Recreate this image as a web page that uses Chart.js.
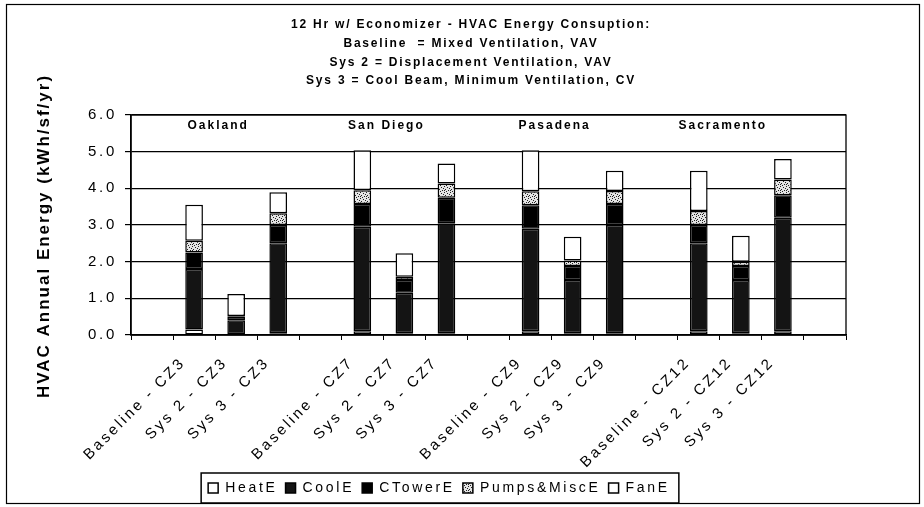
<!DOCTYPE html>
<html><head><meta charset="utf-8">
<script src="https://cdn.jsdelivr.net/npm/chart.js@4.4.1/dist/chart.umd.min.js"></script>
<style>html,body{margin:0;padding:0;background:#fff}canvas{display:block}</style>
</head><body>
<canvas id="c" width="924" height="507"></canvas>
<script>
const categories = ["", "Baseline - CZ3", "Sys 2 - CZ3", "Sys 3 - CZ3", "", "Baseline - CZ7", "Sys 2 - CZ7", "Sys 3 - CZ7", "", "Baseline - CZ9", "Sys 2 - CZ9", "Sys 3 - CZ9", "", "Baseline - CZ12", "Sys 2 - CZ12", "Sys 3 - CZ12", ""];
const heatE   = [null,0.15,0.02,0.05,null,0.10,0.05,0.05,null,0.10,0.05,0.05,null,0.10,0.05,0.10,null];
const coolE   = [null,1.65,0.38,2.45,null,2.85,1.10,3.00,null,2.80,1.45,2.95,null,2.40,1.45,3.10,null];
const ctowerE = [null,0.45,0.10,0.50,null,0.62,0.35,0.69,null,0.64,0.38,0.57,null,0.50,0.38,0.61,null];
const pumpsE  = [null,0.32,0.02,0.32,null,0.38,0.09,0.39,null,0.38,0.15,0.36,null,0.38,0.12,0.43,null];
const fanE    = [null,0.98,0.60,0.57,null,1.09,0.64,0.55,null,1.12,0.65,0.55,null,1.10,0.71,0.56,null];
const seriesNames = ["HeatE","CoolE","CTowerE","Pumps&MiscE","FanE"];
const groupLabels = ["Oakland","San Diego","Pasadena","Sacramento"];
const groupAnchors = ["Sys 2 - CZ3","Sys 2 - CZ7","Sys 2 - CZ9","Sys 2 - CZ12"];
const titleLines = ["12 Hr w/ Economizer - HVAC Energy Consuption:","Baseline  = Mixed Ventilation, VAV","Sys 2 = Displacement Ventilation, VAV","Sys 3 = Cool Beam, Minimum Ventilation, CV"];
const yTicks = [0,1,2,3,4,5,6];
const yTitle = "HVAC Annual Energy (kWh/sf/yr)";

const FONT = '"Liberation Sans", Arial, sans-serif';
const LS = '2.7px';

function makePattern(){
  const c = document.createElement('canvas'); c.width = 6; c.height = 6;
  const x = c.getContext('2d');
  x.fillStyle = '#e4e4e4'; x.fillRect(0,0,6,6);
  x.fillStyle = '#222';
  [[0,0],[3,1],[1,3],[4,4],[2,5],[5,2],[0,4]].forEach(([a,b]) => x.fillRect(a,b,1,1));
  return x.createPattern(c, 'repeat');
}

const seriesData = [heatE, coolE, ctowerE, pumpsE, fanE];
const seriesFill = ['#ffffff', '#141414', '#000000', makePattern(), '#ffffff'];

const decor = {
  id: 'decor',
  beforeUpdate(chart){ chart.ctx.letterSpacing = LS; },
  beforeDraw(chart){ chart.ctx.letterSpacing = LS; },
  afterDraw(chart){
    const ctx = chart.ctx, a = chart.chartArea, xs = chart.scales.x;
    ctx.save();
    ctx.strokeStyle = '#000';
    // outer frame
    ctx.lineWidth = 1.2;
    ctx.strokeRect(6.5, 4.5, 913, 499);
    // plot area border
    ctx.lineWidth = 1.3;
    ctx.strokeRect(a.left, a.top, a.right - a.left, a.bottom - a.top);
    // legend box
    const hb = chart.legend.legendHitBoxes;
    if (hb && hb.length){
      const l = Math.min(...hb.map(h => h.left)) - 7;
      const r = Math.max(...hb.map(h => h.left + h.width)) + 9;
      const t = hb[0].top - 8, b = hb[0].top + hb[0].height + 8;
      ctx.lineWidth = 1.5;
      ctx.strokeRect(l, t, r - l, b - t);
    }
    ctx.fillStyle = '#000';
    ctx.textAlign = 'center'; ctx.textBaseline = 'middle';
    // title
    ctx.letterSpacing = '1.8px';
    ctx.font = 'bold 12px ' + FONT;
    titleLines.forEach((s, i) => ctx.fillText(s, 471, 25 + i * 18.7));
    // group labels
    ctx.letterSpacing = '2px';
    ctx.font = 'bold 12px ' + FONT;
    groupLabels.forEach((g, i) => {
      const px = xs.getPixelForValue(categories.indexOf(groupAnchors[i]));
      ctx.fillText(g, px - 18, a.top + 11);
    });
    // y title
    ctx.letterSpacing = '2px';
    ctx.font = 'bold 17px ' + FONT;
    ctx.translate(44, 236);
    ctx.rotate(-Math.PI / 2);
    ctx.fillText(yTitle, 0, 0);
    ctx.restore();
  }
};

new Chart(document.getElementById('c'), {
  type: 'bar',
  data: {
    labels: categories,
    datasets: seriesNames.map((n, i) => ({
      label: n,
      data: seriesData[i],
      backgroundColor: seriesFill[i],
      borderColor: '#000',
      borderWidth: 1.5,
      borderSkipped: false,
      barPercentage: 0.42,
      categoryPercentage: 1
    }))
  },
  options: {
    responsive: false,
    animation: false,
    devicePixelRatio: 1,
    layout: { padding: { left: 32, right: 78, top: 115, bottom: 2 } },
    plugins: {
      title: { display: false },
      tooltip: { enabled: false },
      legend: {
        position: 'bottom',
        labels: { color: '#000', font: { family: FONT, size: 14 }, boxWidth: 10, boxHeight: 10, padding: 8 }
      }
    },
    scales: {
      x: {
        stacked: true,
        grid: { display: true, drawOnChartArea: false, drawTicks: true, tickLength: 5, color: '#000', offset: true },
        border: { display: true, color: '#000', width: 1.5 },
        ticks: { autoSkip: false, maxRotation: 45, minRotation: 45, color: '#000', font: { family: FONT, size: 15 }, padding: 14, labelOffset: -11 },
        afterFit(s){ s.height = 138; }
      },
      y: {
        stacked: true, min: 0, max: 6,
        grid: { color: '#000', lineWidth: 1.2, tickLength: 6, drawTicks: true },
        border: { display: true, color: '#000', width: 1.5 },
        ticks: { color: '#000', font: { family: FONT, size: 15 }, padding: 8, callback: v => Number(v).toFixed(1) },
        afterBuildTicks(s){ s.ticks = yTicks.map(v => ({ value: v })); },
        afterFit(s){ s.width = 99; }
      }
    }
  },
  plugins: [decor]
});
</script>
</body></html>
